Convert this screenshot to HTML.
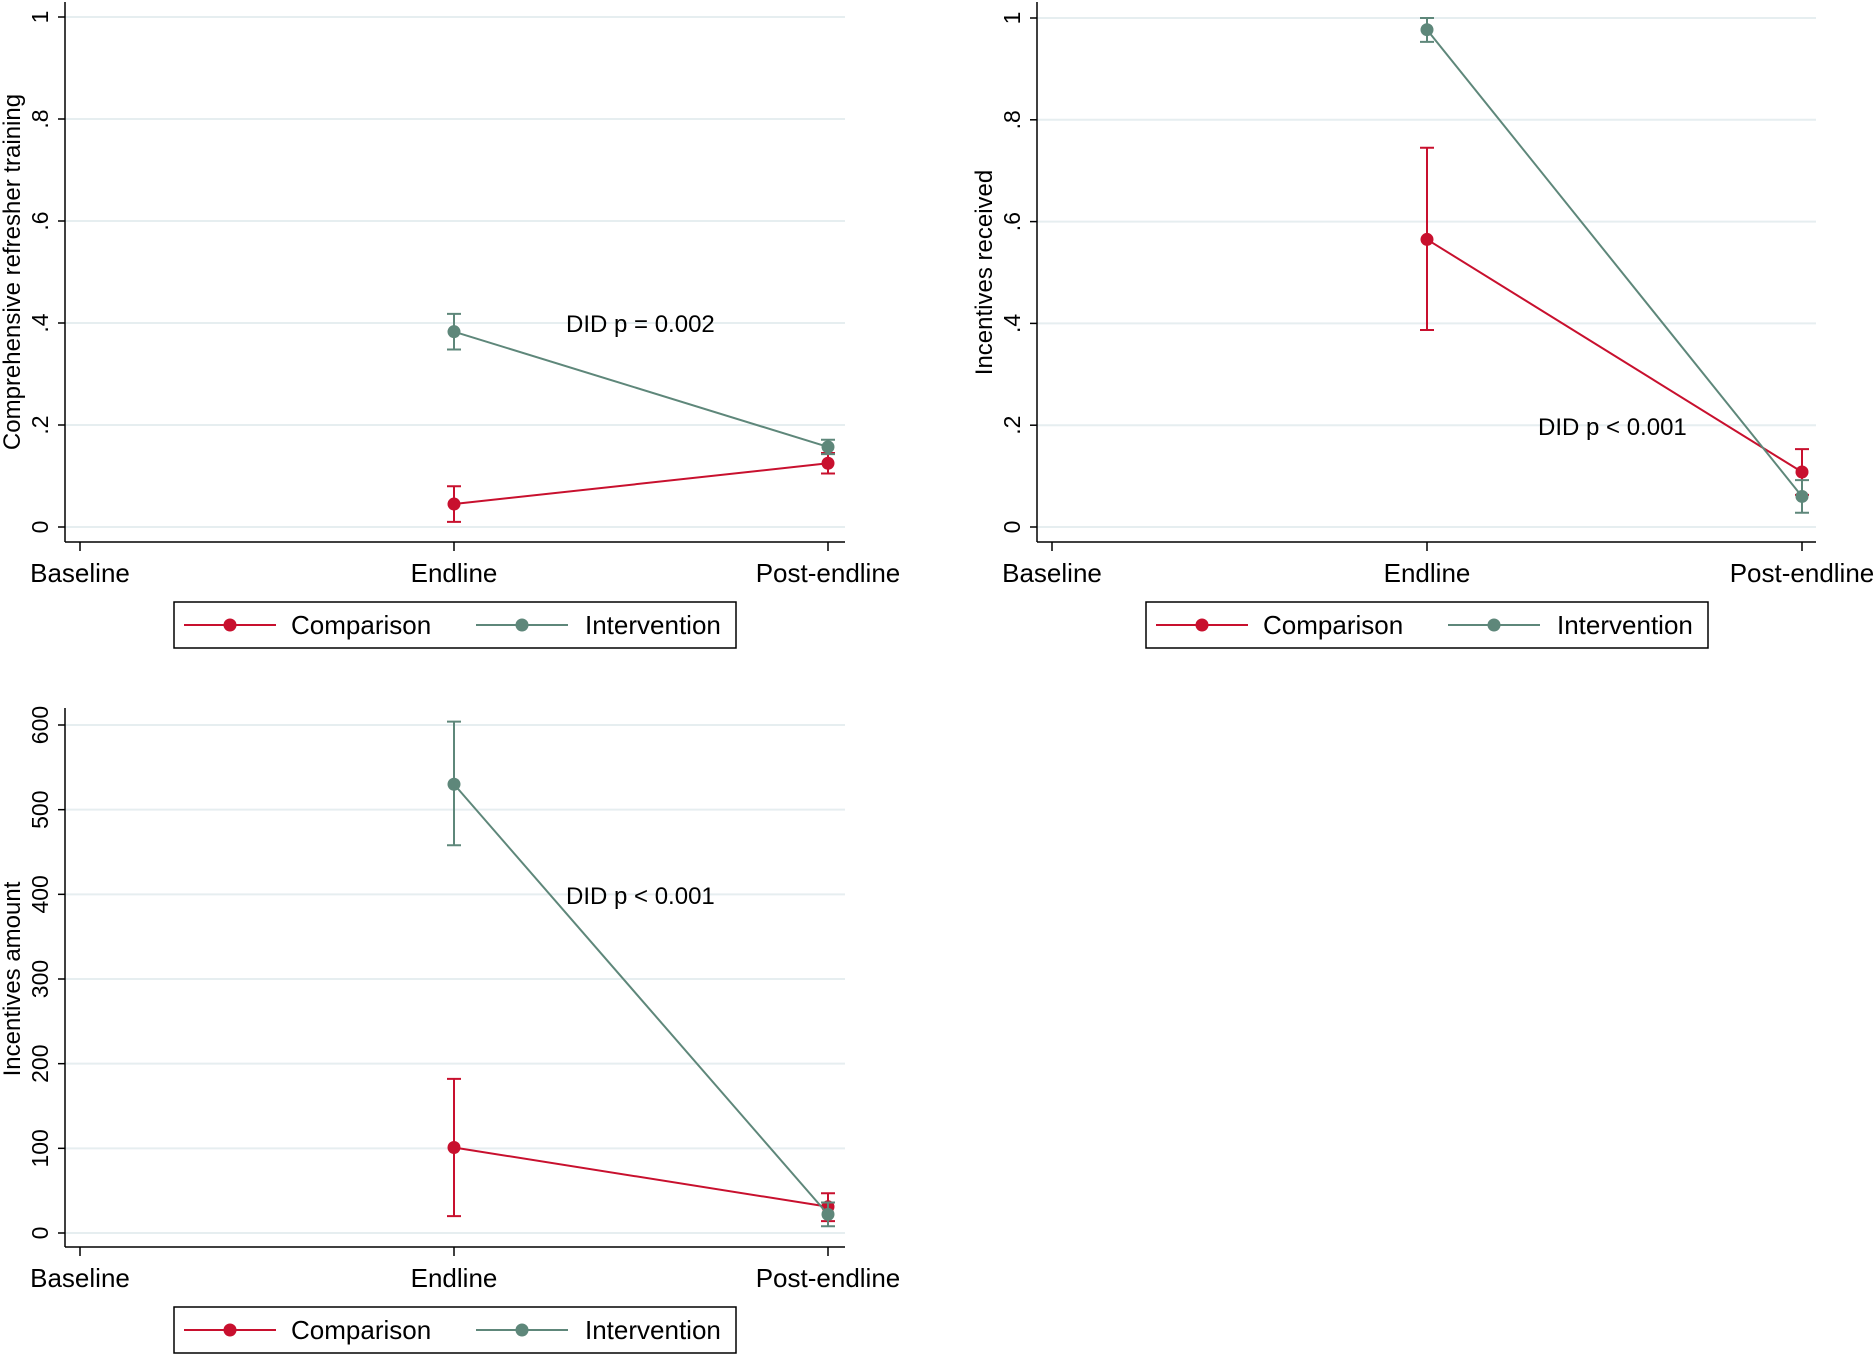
<!DOCTYPE html>
<html><head><meta charset="utf-8"><style>
html,body{margin:0;padding:0;background:#fff;}
svg{display:block;font-family:"Liberation Sans",Arial,sans-serif;}
</style></head><body>
<svg id="fig" width="1875" height="1355" viewBox="0 0 1875 1355" xmlns="http://www.w3.org/2000/svg"></svg>
<script>
const categories = ["Baseline","Endline","Post-endline"];
const seriesNames = ["Comparison","Intervention"];
const seriesColors = ["#c8102e","#5e877a"];
// panel 1
const p1Ticks = [0,0.2,0.4,0.6,0.8,1];
const p1TickLabels = ["0",".2",".4",".6",".8","1"];
const p1Comp = [null,0.045,0.125];
const p1CompLo = [null,0.010,0.105];
const p1CompHi = [null,0.080,0.145];
const p1Int = [null,0.383,0.157];
const p1IntLo = [null,0.348,0.143];
const p1IntHi = [null,0.418,0.171];
// panel 2
const p2Ticks = [0,0.2,0.4,0.6,0.8,1];
const p2TickLabels = ["0",".2",".4",".6",".8","1"];
const p2Comp = [null,0.565,0.108];
const p2CompLo = [null,0.387,0.063];
const p2CompHi = [null,0.745,0.153];
const p2Int = [null,0.977,0.060];
const p2IntLo = [null,0.953,0.028];
const p2IntHi = [null,1.000,0.092];
// panel 3
const p3Ticks = [0,100,200,300,400,500,600];
const p3TickLabels = ["0","100","200","300","400","500","600"];
const p3Comp = [null,101,31];
const p3CompLo = [null,20,14];
const p3CompHi = [null,182,47];
const p3Int = [null,530,22];
const p3IntLo = [null,458,8];
const p3IntHi = [null,604,36];

const NS="http://www.w3.org/2000/svg";
const svg=document.getElementById('fig');
function mk(tag,attrs,parent,text){const e=document.createElementNS(NS,tag);for(const k in attrs)e.setAttribute(k,attrs[k]);if(text!==undefined)e.textContent=text;(parent||svg).appendChild(e);return e;}

function panel(o){
  const g=mk('g',{});
  
  
  const y=v=>o.y0+(v-o.vmin)/(o.vmax-o.vmin)*(o.y1-o.y0);
  const x=i=>o.xs[0]+i*(o.xs[1]-o.xs[0]);
  o.ticks.forEach((t,i)=>{
    const gl=mk('line',{x1:o.ax,x2:o.right,y1:y(t),y2:y(t),stroke:'#e6eef0','stroke-width':2},g);
    
    
    const tk=mk('line',{x1:o.ax-7,x2:o.ax,y1:y(t),y2:y(t),stroke:'#000','stroke-width':1.5},g);
    
    
    const tl=mk('text',{x:0,y:0,transform:`translate(${o.ax-17},${y(t)}) rotate(-90)`,'text-anchor':'middle','font-size':23},g,o.tickLabels[i]);
    
    
  });
  const ya=mk('line',{x1:o.ax,x2:o.ax,y1:o.top,y2:o.bottom,stroke:'#000','stroke-width':1.5},g);
  
  
  const xa=mk('line',{x1:o.ax,x2:o.right,y1:o.bottom,y2:o.bottom,stroke:'#000','stroke-width':1.5},g);
  
  
  categories.forEach((c,i)=>{
    const t=mk('line',{x1:x(i),x2:x(i),y1:o.bottom,y2:o.bottom+9,stroke:'#000','stroke-width':1.5},g);
    
    
    const l=mk('text',{x:x(i),y:o.bottom+40,'text-anchor':'middle','font-size':26},g,c);
    
    
  });
  const yt=mk('text',{x:0,y:0,transform:`translate(${o.ax-45},${(o.y0+o.y1)/2}) rotate(-90)`,'text-anchor':'middle','font-size':24},g,o.title);
  
  
  const series=[[o.comp,o.compLo,o.compHi],[o.int,o.intLo,o.intHi]];
  series.forEach((s,si)=>{
    const col=seriesColors[si];
    let pts=[];
    s[0].forEach((v,i)=>{if(v!==null)pts.push(x(i)+','+y(v));});
    const pl=mk('polyline',{points:pts.join(' '),fill:'none',stroke:col,'stroke-width':2},g);
    
    
    s[0].forEach((v,i)=>{
      if(v===null)return;
      const eb=mk('path',{d:`M${x(i)},${y(s[1][i])}V${y(s[2][i])}M${x(i)-7},${y(s[1][i])}h14M${x(i)-7},${y(s[2][i])}h14`,stroke:col,'stroke-width':2,fill:'none'},g);
      
      
      const c=mk('circle',{cx:x(i),cy:y(v),r:6.5,fill:col},g);
      
      
    });
  });
  const an=mk('text',{x:o.ann[0],y:o.ann[1],'font-size':24},g,o.annText);
  
  
  const lx=o.leg[0],ly=o.leg[1];
  const lb=mk('rect',{x:lx,y:ly,width:562,height:46,fill:'#fff',stroke:'#000','stroke-width':1.5},g);
  
  
  const offs=[[10,117],[302,411]];
  seriesNames.forEach((n,si)=>{
    const ox=lx+offs[si][0];
    const ll=mk('line',{x1:ox,x2:ox+92,y1:ly+23,y2:ly+23,stroke:seriesColors[si],'stroke-width':2},g);
    
    
    const lc=mk('circle',{cx:ox+46,cy:ly+23,r:6.5,fill:seriesColors[si]},g);
    
    
    const lt=mk('text',{x:lx+offs[si][1],y:ly+32,'font-size':26},g,n);
    
    
  });
}
panel({name:'panel-refresher-training',ax:65,right:845,top:2,bottom:542,y0:527,y1:17,vmin:0,vmax:1,xs:[80,454],
  ticks:p1Ticks,tickLabels:p1TickLabels,comp:p1Comp,compLo:p1CompLo,compHi:p1CompHi,int:p1Int,intLo:p1IntLo,intHi:p1IntHi,
  title:'Comprehensive refresher training',ann:[566,332],annText:'DID p = 0.002',leg:[174,602]});
panel({name:'panel-incentives-received',ax:1037,right:1816,top:2,bottom:542,y0:527,y1:18,vmin:0,vmax:1,xs:[1052,1427],
  ticks:p2Ticks,tickLabels:p2TickLabels,comp:p2Comp,compLo:p2CompLo,compHi:p2CompHi,int:p2Int,intLo:p2IntLo,intHi:p2IntHi,
  title:'Incentives received',ann:[1538,435],annText:'DID p < 0.001',leg:[1146,602]});
panel({name:'panel-incentives-amount',ax:65,right:845,top:708,bottom:1247,y0:1233,y1:725,vmin:0,vmax:600,xs:[80,454],
  ticks:p3Ticks,tickLabels:p3TickLabels,comp:p3Comp,compLo:p3CompLo,compHi:p3CompHi,int:p3Int,intLo:p3IntLo,intHi:p3IntHi,
  title:'Incentives amount',ann:[566,904],annText:'DID p < 0.001',leg:[174,1307]});
</script>
</body></html>
